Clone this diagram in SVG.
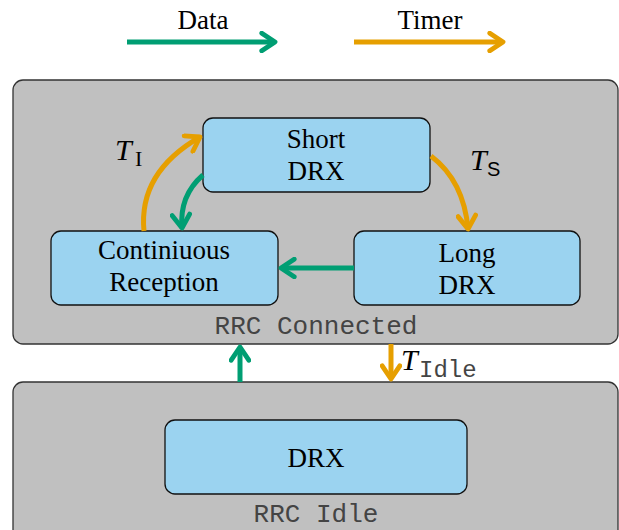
<svg xmlns="http://www.w3.org/2000/svg" width="619" height="530" viewBox="0 0 619 530">
<defs>
<style>
.state{fill:#c0c0c0;stroke:#333;stroke-width:1.3}
.node{fill:#9bd3f0;stroke:#111;stroke-width:1.3}
.lbl{font-family:"Liberation Serif",serif;font-size:27px;fill:#000;text-anchor:middle}
.mono{font-family:"Liberation Mono",monospace;font-size:26px;fill:#444;text-anchor:middle}
.g{fill:none;stroke:#009e73;stroke-width:5}
.o{fill:none;stroke:#e69f00;stroke-width:5}
</style>
<marker id="mg" viewBox="0 0 10 10" refX="8" refY="5" markerWidth="4.4" markerHeight="4.4" orient="auto" markerUnits="strokeWidth">
<path d="M2,1 L8,5 L2,9" fill="none" stroke="#009e73" stroke-width="2.2" stroke-linecap="round" stroke-linejoin="round"/>
</marker>
<marker id="mo" viewBox="0 0 10 10" refX="8" refY="5" markerWidth="4.4" markerHeight="4.4" orient="auto" markerUnits="strokeWidth">
<path d="M2,1 L8,5 L2,9" fill="none" stroke="#e69f00" stroke-width="2.2" stroke-linecap="round" stroke-linejoin="round"/>
</marker>
</defs>
<rect width="619" height="530" fill="#fff"/>
<g id="legend">
<text class="lbl" x="203" y="29">Data</text>
<text class="lbl" x="430" y="29">Timer</text>
</g>
<g id="rrc-connected">
<rect class="state" x="13" y="80" width="605" height="264" rx="10"/>
<text class="mono" x="316" y="334">RRC Connected</text>
</g>
<g id="rrc-idle">
<rect class="state" x="13" y="382" width="605" height="160" rx="10"/>
<text class="mono" x="316" y="522">RRC Idle</text>
</g>
<g id="short-drx">
<rect class="node" x="203" y="118" width="227" height="74" rx="10"/>
<text class="lbl" x="316" y="148">Short</text>
<text class="lbl" x="316" y="180">DRX</text>
</g>
<g id="continuous-reception">
<rect class="node" x="51" y="231" width="227" height="74" rx="10"/>
<text class="lbl" x="164" y="259">Continiuous</text>
<text class="lbl" x="164" y="291">Reception</text>
</g>
<g id="long-drx">
<rect class="node" x="354" y="231" width="226" height="74" rx="10"/>
<text class="lbl" x="467" y="262">Long</text>
<text class="lbl" x="467" y="294">DRX</text>
</g>
<g id="idle-drx">
<rect class="node" x="165" y="420" width="302" height="74" rx="10"/>
<text class="lbl" x="316" y="467">DRX</text>
</g>
<g id="connectors">
<path class="g" d="M127,42 L275,42" marker-end="url(#mg)"/>
<path class="o" d="M354,42 L503,42" marker-end="url(#mo)"/>
<path class="o" d="M144,231 C140,190 160,160 200,137" marker-end="url(#mo)"/>
<path class="g" d="M203,175 C188,188 180,205 182,228" marker-end="url(#mg)"/>
<path class="o" d="M431,156 C452,172 465,195 468,229" marker-end="url(#mo)"/>
<path class="g" d="M354,268 L281,268" marker-end="url(#mg)"/>
<path class="g" d="M240,382 L240,347" marker-end="url(#mg)"/>
<path class="o" d="M391,344 L391,379" marker-end="url(#mo)"/>
</g>
<g id="timer-labels">
<text x="115" y="160" font-family="Liberation Serif,serif" font-size="30" font-style="italic">T</text>
<text x="135" y="166" font-family="Liberation Serif,serif" font-size="22">I</text>
<text x="470" y="170" font-family="Liberation Serif,serif" font-size="30" font-style="italic">T</text>
<text x="487" y="176" font-family="Liberation Sans,sans-serif" font-size="20">S</text>
<text x="401" y="370" font-family="Liberation Serif,serif" font-size="30" font-style="italic">T</text>
<text x="419" y="377" font-family="Liberation Mono,monospace" font-size="24" fill="#444">Idle</text>
</g>
</svg>
